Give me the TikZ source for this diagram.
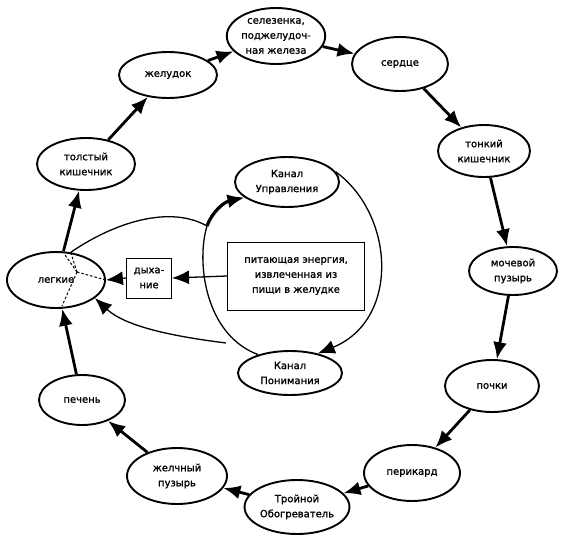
\documentclass[tikz,border=0pt]{standalone}
\usepackage{fontspec}
\setmainfont{DejaVu Sans}[RawFeature={embolden=1.2}]
\usetikzlibrary{shapes.geometric,arrows.meta}
\begin{document}
\begin{tikzpicture}[x=1pt,y=-1pt,
  organ/.style={draw,line width=1.9pt,ellipse,inner sep=0pt,align=center,
     font=\fontsize{10}{15}\selectfont},
  boxnode/.style={draw,line width=1pt,inner sep=0pt,align=center,
     font=\fontsize{10}{15}\selectfont},
  outer/.style={line width=2.8pt,-{Latex[length=17pt,width=14pt]}},
  innerln/.style={line width=1.3pt},
  innerarr/.style={line width=1.3pt,-{Latex[length=17pt,width=14pt]}},
  dotl/.style={line width=1pt,dash pattern=on 2.5pt off 2pt}]
\useasboundingbox (0,0) rectangle (581,544);
% organs
\node[organ,minimum width=86pt,minimum height=56pt] (sel) at (276,36) {селезенка,\\поджелудоч-\\ная железа};
\node[organ,minimum width=96pt,minimum height=54pt] (ser) at (400,64) {сердце};
\node[organ,minimum width=98pt,minimum height=46pt] (zhe) at (168,75) {желудок};
\node[organ,minimum width=98pt,minimum height=52pt] (tol) at (86,164) {толстый\\кишечник};
\node[organ,minimum width=92pt,minimum height=52pt] (ton) at (484,151) {тонкий\\кишечник};
\node[organ,minimum width=88pt,minimum height=48pt] (moc) at (513,271) {мочевой\\пузырь};
\node[organ,minimum width=98pt,minimum height=56pt] (leg) at (56,280) {легкие};
\node[organ,minimum width=94pt,minimum height=52pt] (poc) at (492,386) {почки};
\node[organ,minimum width=96pt,minimum height=56pt] (per) at (412,473) {перикард};
\node[organ,minimum width=94pt,minimum height=54pt] (tro) at (297,507) {Тройной\\Обогреватель};
\node[organ,minimum width=100pt,minimum height=56pt] (zhp) at (177,476) {желчный\\пузырь};
\node[organ,minimum width=86pt,minimum height=50pt] (pec) at (82,400) {печень};
\node[organ,minimum width=104pt,minimum height=50pt] (ku) at (287,182) {Канал\\Управления};
\node[organ,minimum width=104pt,minimum height=44pt] (kp) at (290,373) {Канал\\Понимания};
% boxes
\node[boxnode,minimum width=137pt,minimum height=68pt] (pit) at (296,276) {питающая энергия,\\извлеченная из\\пищи в желудке};
\node[boxnode,minimum width=45pt,minimum height=40pt] (dyh) at (149,278) {дыха-\\ние};
% outer cycle
\draw[outer] (leg) -- (tol);
\draw[outer] (tol) -- (zhe);
\draw[outer] (zhe) -- (sel);
\draw[outer] (sel) -- (ser);
\draw[outer] (ser) -- (ton);
\draw[outer] (ton) -- (moc);
\draw[outer] (moc) -- (poc);
\draw[outer] (poc) -- (per);
\draw[outer] (per) -- (tro);
\draw[outer] (tro) -- (zhp);
\draw[outer] (zhp) -- (pec);
\draw[outer] (pec) -- (leg);
% inner
\coordinate (J) at (207,226);
\coordinate (K) at (226,343);
\coordinate (C) at (77,272);
\draw[innerln] (kp.150) .. controls (205,335) and (196,262) .. (J);
\draw[line width=3.2pt,-{Latex[length=17pt,width=14pt]}] (J) .. controls (212,212) and (224,202) .. (ku.200);
\draw[innerln] (leg.62) .. controls (115,222) and (170,205) .. (J);
\draw[innerarr] (ku.12) .. controls (395,215) and (400,320) .. (kp.35);
\draw[innerarr] (K) .. controls (170,336) and (125,326) .. (leg.-25);
\draw[innerarr] (pit.west) -- (dyh.east);
\draw[innerarr] (dyh.west) -- (leg.east);
% dotted lines inside lungs
\draw[dotl] (C) -- (65,255);
\draw[dotl] (C) -- (leg.62);
\draw[dotl] (C) -- (leg.east);
\draw[dotl] (C) -- (62,306);
\end{tikzpicture}
\end{document}
